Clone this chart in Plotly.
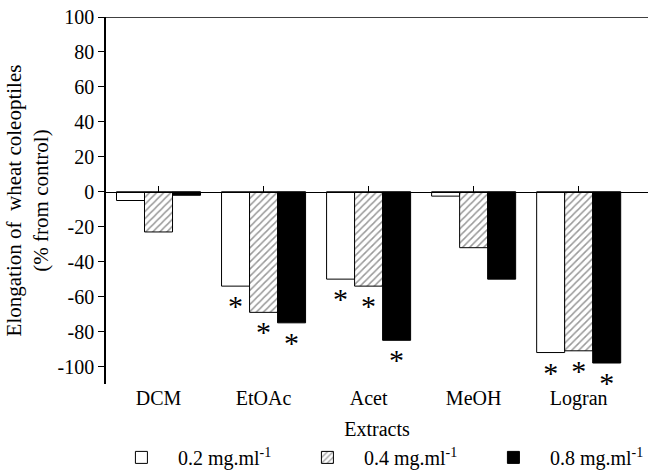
import plotly.graph_objects as go

categories = ["DCM", "EtOAc", "Acet", "MeOH", "Logran"]
series_names = ["0.2 mg.ml<sup>-1</sup>", "0.4 mg.ml<sup>-1</sup>", "0.8 mg.ml<sup>-1</sup>"]
values_02 = [-5, -54, -50, -2.5, -92]
values_04 = [-23, -69, -54, -32, -91]
values_08 = [-2, -75, -85, -50, -98]
signif_02 = [False, True, True, False, True]
signif_04 = [False, True, True, False, True]
signif_08 = [False, True, True, False, True]
y_tickvals = [-100, -80, -60, -40, -20, 0, 20, 40, 60, 80, 100]
y_ticktext = ["-100", "-80", "-60", "-40", "-20", "0", "20", "40", "60", "80", "100"]

FONT = "Liberation Serif, Times New Roman, DejaVu Serif, serif"

styles = [
    dict(color="white", pattern=None),
    dict(color="white", pattern=dict(shape="/", fgcolor="#333333", bgcolor="white", size=5, solidity=0.3)),
    dict(color="black", pattern=None),
]

fig = go.Figure()
for name, vals, sig, st in zip(series_names, [values_02, values_04, values_08],
                               [signif_02, signif_04, signif_08], styles):
    marker = dict(color=st["color"], line=dict(color="black", width=1))
    if st["pattern"]:
        marker["pattern"] = st["pattern"]
    fig.add_trace(go.Bar(
        x=categories, y=vals, name=name, marker=marker,
        text=["*" if s else "" for s in sig],
        textposition="outside", cliponaxis=False, constraintext="none",
        textfont=dict(family=FONT, size=30, color="black"),
        hoverinfo="x+y",
    ))

# invisible helper trace so the zero-line axis (with upward category ticks) is drawn
fig.add_trace(go.Scatter(x=categories, y=[0] * len(categories), xaxis="x2", mode="none",
                         showlegend=False, hoverinfo="skip"))

fig.update_layout(
    width=648, height=470,
    margin=dict(l=106, r=0, t=17, b=86, autoexpand=False),
    paper_bgcolor="white", plot_bgcolor="white",
    barmode="group", bargap=0.2, bargroupgap=0,
    font=dict(family=FONT, size=20, color="black"),
    showlegend=True,
    legend=dict(orientation="h", x=-0.002, xanchor="left", y=-0.2, yanchor="middle",
                font=dict(family=FONT, size=20), entrywidth=108, entrywidthmode="pixels",
                itemwidth=63, bgcolor="rgba(0,0,0,0)"),
    xaxis=dict(type="category", categoryarray=categories, range=[-0.5, 4.66],
               showline=False, ticks="", showgrid=False, zeroline=False,
               tickfont=dict(family=FONT, size=20), ticklabelstandoff=0,
               title=dict(text="Extracts", font=dict(family=FONT, size=20), standoff=12)),
    xaxis2=dict(type="category", categoryarray=categories, overlaying="x", matches="x",
                anchor="free", position=110 / 210, showline=True, linecolor="black", linewidth=1,
                ticks="inside", ticklen=6, tickcolor="black", showticklabels=False,
                showgrid=False, zeroline=False),
    yaxis=dict(range=[-110, 100], tickmode="array", tickvals=y_tickvals, ticktext=y_ticktext,
               showline=True, linecolor="black", linewidth=1.5, ticks="outside", ticklen=6,
               tickcolor="black", showgrid=False, zeroline=False,
               tickfont=dict(family=FONT, size=20),
               title=dict(text="Elongation of  wheat coleoptiles<br>(% from control)",
                          font=dict(family=FONT, size=21), standoff=3)),
    shapes=[dict(type="line", xref="paper", x0=0, x1=1, yref="y", y0=100, y1=100,
                 line=dict(color="black", width=1.5))],
)

fig.write_html("out.html", config={"displayModeBar": False},
               post_script="document.body.style.margin='0';document.body.style.padding='0';")
